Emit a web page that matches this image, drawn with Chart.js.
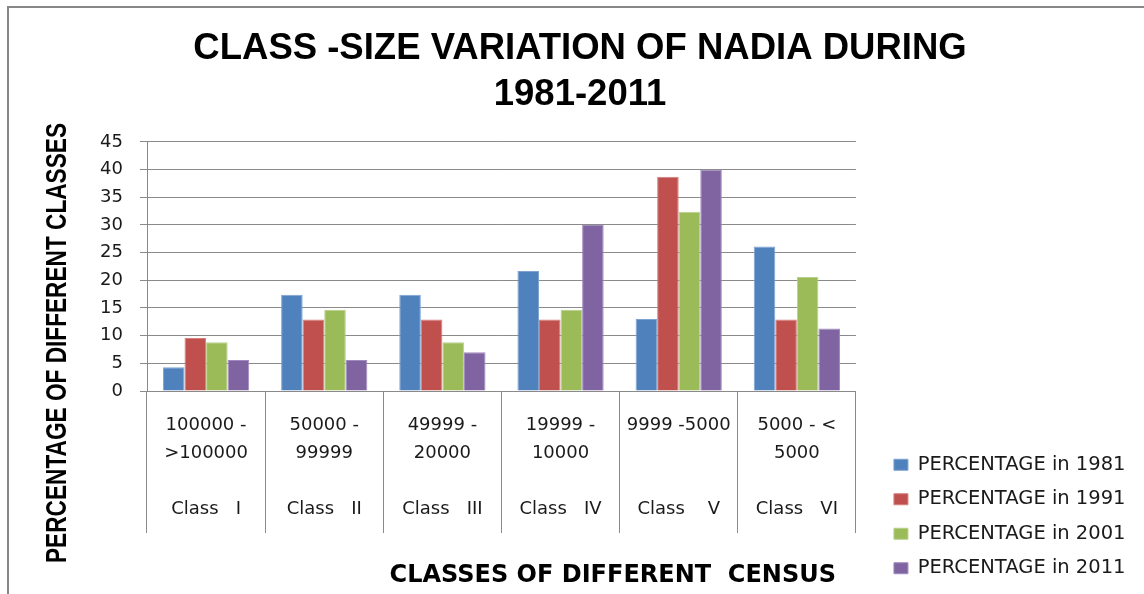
<!DOCTYPE html>
<html><head><meta charset="utf-8">
<script src="https://cdn.jsdelivr.net/npm/chart.js@4.4.1/dist/chart.umd.min.js"></script>
<style>
html,body{margin:0;padding:0;background:#fff;overflow:hidden}
#wrap{position:relative;width:1144px;height:594px}
#frame{position:absolute;left:7px;top:6px;width:1150px;height:600px;border-left:2px solid #878787;border-top:2px solid #878787;pointer-events:none}
</style></head>
<body><div id="wrap"><canvas id="c" width="1144" height="594"></canvas><div id="frame"></div></div>
<script>
const rangeLine1 = ['100000 -', '50000 -', '49999 -', '19999 -', '9999 -5000', '5000 - <'];
const rangeLine2 = ['>100000', '99999', '20000', '10000', '', '5000'];
const classNames = ['Class   I', 'Class   II', 'Class   III', 'Class   IV', 'Class    V', 'Class   VI'];
const seriesNames = ['PERCENTAGE in 1981', 'PERCENTAGE in 1991', 'PERCENTAGE in 2001', 'PERCENTAGE in 2011'];
const pct1981 = [4.3, 17.4, 17.4, 21.7, 13.0, 26.1];
const pct1991 = [9.6, 12.9, 12.9, 12.9, 38.7, 12.9];
const pct2001 = [8.8, 14.7, 8.8, 14.7, 32.4, 20.6];
const pct2011 = [5.6, 5.6, 7.0, 30.0, 40.0, 11.3];
const yTicks = [0, 5, 10, 15, 20, 25, 30, 35, 40, 45];
const chartTitle = ['CLASS -SIZE VARIATION OF NADIA DURING', '1981-2011'];
const xAxisTitle = 'CLASSES OF DIFFERENT  CENSUS';
const yAxisTitle = 'PERCENTAGE OF DIFFERENT CLASSES';

const colors = ['#4F81BD', '#C0504D', '#9BBB59', '#8064A2'];
const borders = ['#7EA3D0', '#D47F7D', '#B9D08A', '#A08BBE'];
const allSeries = [pct1981, pct1991, pct2001, pct2011];

const labels = rangeLine1.map((a, i) => [a, rangeLine2[i], '', classNames[i]]);

const axisTitlePlugin = {
  id: 'axisTitles',
  afterDraw(chart) {
    const {ctx, chartArea} = chart;
    ctx.save();
    ctx.fillStyle = '#000';
    ctx.textAlign = 'center';
    ctx.textBaseline = 'middle';
    ctx.font = 'bold 24px "DejaVu Sans"';
    ctx.fillText(xAxisTitle, chartArea.left + chartArea.width * 0.657, chart.height - 18);
    ctx.translate(chartArea.left - 89, chartArea.bottom - 48);
    ctx.rotate(-Math.PI / 2);
    ctx.font = 'bold 30px "Liberation Sans", sans-serif';
    const w = ctx.measureText(yAxisTitle).width;
    ctx.scale(440 / w, 1);
    ctx.fillText(yAxisTitle, 0, 0);
    ctx.restore();
  }
};

new Chart(document.getElementById('c'), {
  type: 'bar',
  data: {
    labels: labels,
    datasets: allSeries.map((d, i) => ({
      label: seriesNames[i],
      data: d,
      backgroundColor: colors[i],
      borderColor: borders[i],
      borderWidth: 1,
      categoryPercentage: 0.73,
      barPercentage: 1.0
    }))
  },
  options: {
    responsive: false,
    animation: false,
    events: [],
    layout: { padding: { left: 24.5, right: 8.5, top: 0, bottom: 1 } },
    plugins: {
      title: {
        display: true,
        text: chartTitle,
        color: '#000',
        font: { family: '"Liberation Sans", sans-serif', size: 36.5, weight: 'bold', lineHeight: 1.26 },
        padding: { top: 26, bottom: 24 }
      },
      legend: {
        position: 'right',
        align: 'end',
        maxWidth: 400,
        labels: {
          color: '#1a1a1a',
          font: { family: '"DejaVu Sans"', size: 19.5 },
          boxWidth: 14,
          boxHeight: 11,
          padding: 15
        }
      },
      tooltip: { enabled: false }
    },
    scales: {
      x: {
        grid: { display: true, drawOnChartArea: false, drawTicks: true, tickLength: 142, color: '#8a8a8a', offset: true },
        border: { display: true, color: '#8a8a8a' },
        ticks: {
          color: '#1a1a1a',
          font: { family: '"DejaVu Sans"', size: 18, lineHeight: 1.556 },
          padding: -122,
          maxRotation: 0,
          autoSkip: false
        },
        afterFit: (s) => { s.height = 202; }
      },
      y: {
        min: 0,
        max: 45,
        afterBuildTicks: (s) => { s.ticks = yTicks.map(v => ({ value: v })); },
        grid: { color: '#8a8a8a', tickLength: 7 },
        border: { display: true, color: '#8a8a8a' },
        ticks: { color: '#1a1a1a', font: { family: '"DejaVu Sans"', size: 18 }, padding: 17 },
        afterFit: (s) => { s.width = 122.5; }
      },
      spacer: {
        position: 'right',
        display: true,
        grid: { display: false },
        border: { display: false },
        ticks: { display: false },
        afterFit: (s) => { s.width = 23; }
      }
    }
  },
  plugins: [axisTitlePlugin]
});
</script>
</body></html>
